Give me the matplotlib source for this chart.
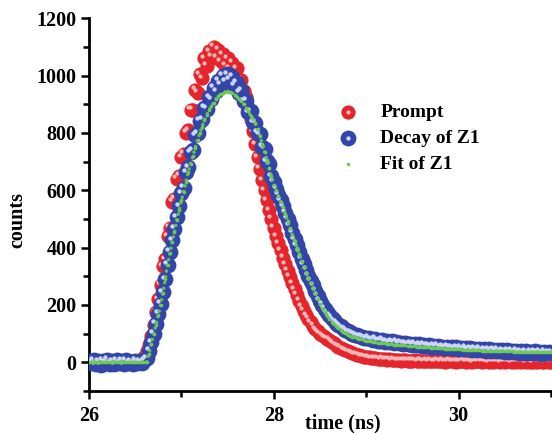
import numpy as np
import matplotlib
matplotlib.use('Agg')
import matplotlib.pyplot as plt
from matplotlib.transforms import offset_copy
from matplotlib.legend_handler import HandlerTuple

plt.rcParams['font.family'] = ['Liberation Serif', 'DejaVu Serif']
plt.rcParams['font.weight'] = 'bold'

# time channels: 26.0 ns, step 0.025 ns
t0 = 26.0
dt = 0.025

prompt = [
    2, -3, 1, 0, 4, -2, 3, 1, -1, 2, 0, 3, -2, 1, 2, -1, 0, 3, 1, 2,
    3, 2, 5, 12, 20, 38, 60, 92, 130, 175, 220, 270, 335, 360, 440, 470, 560, 570, 640, 650,
    715, 728, 800, 810, 880, 880, 950, 940, 1005, 990, 1060, 1035, 1085, 1065, 1100, 1062, 1090, 1050, 1075, 1035,
    1060, 1025, 1045, 1005, 1025, 978, 985, 945, 925, 885, 850, 805, 760, 715, 675, 635, 600, 565, 530, 500,
    470, 440, 415, 390, 365, 342, 320, 298, 275, 255, 235, 215, 195, 180, 165, 152, 140, 128, 115, 108,
    100, 94, 88, 83, 78, 72, 66, 60, 55, 50, 45, 42, 38, 35, 32, 29, 26, 24, 22, 20,
    18, 17, 15, 14, 14, 12, 11, 12, 10, 9, 10, 8, 9, 7, 8, 6, 7, 8, 5, 6,
    5, 7, 4, 6, 5, 3, 6, 4, 5, 3, 4, 6, 3, 5, 2, 4, 5, 3, 4, 2,
    4, 3, 5, 2, 4, 3, 1, 4, 3, 5, 2, 3, 4, 1, 3, 2, 4, 3, 1, 3,
    2, 4, 3, 1, 3, 2, 4, 2, 3, 1, 3, 2, 1, 3, 2, 4, 2, 1, 3, 2,
    2,
]

decay = [
    5, -4, 8, -6, 3, -8, 6, -2, 9, -5, 4, -7, 7, -3, 5, -6, 8, -4, 2, -5,
    6, -3, 4, -2, 8, 15, 40, 70, 100, 135, 170, 205, 245, 290, 340, 385, 425, 465, 505, 545,
    590, 608, 662, 680, 732, 740, 792, 798, 842, 848, 888, 885, 925, 918, 958, 945, 982, 968, 1000, 980,
    1005, 985, 995, 965, 975, 940, 948, 910, 912, 872, 875, 838, 835, 800, 795, 752, 745, 702, 690, 648,
    630, 605, 585, 565, 545, 522, 500, 478, 452, 430, 408, 385, 362, 342, 322, 302, 285, 268, 250, 232,
    215, 200, 186, 174, 164, 155, 146, 138, 131, 125, 119, 113, 108, 104, 100, 97, 94, 91, 89, 86,
    84, 86, 80, 79, 82, 76, 75, 78, 72, 74, 70, 73, 68, 71, 66, 69, 64, 67, 63, 65,
    62, 64, 60, 63, 58, 61, 57, 60, 55, 58, 54, 57, 52, 55, 51, 54, 50, 53, 49, 52,
    48, 51, 46, 50, 45, 49, 44, 48, 43, 47, 42, 46, 41, 45, 40, 44, 39, 43, 38, 42,
    37, 42, 36, 41, 35, 40, 34, 39, 33, 38, 32, 37, 31, 38, 33, 36, 30, 37, 32, 35,
    34,
]

fit = [
    0, 0, 0, 0, 0, 0, 0, 0, 0, 0, 0, 0, 0, 0, 0, 0, 0, 0, 0, 0,
    0, 0, 0, 0, 0, 0, 30, 65, 100, 130, 165, 200, 240, 290, 340, 380, 420, 455, 495, 530,
    565, 595, 630, 665, 693, 720, 748, 775, 800, 822, 845, 863, 880, 893, 905, 918, 928, 935, 940, 943,
    943, 942, 938, 933, 926, 918, 910, 900, 888, 875, 860, 848, 833, 815, 790, 762, 735, 706, 677, 648,
    620, 600, 580, 560, 540, 517, 493, 468, 445, 422, 400, 378, 355, 333, 313, 293, 275, 258, 240, 222,
    205, 190, 176, 163, 152, 142, 133, 125, 118, 112, 106, 101, 97, 93, 90, 87, 84, 82, 80, 78,
    76, 75, 73, 72, 70, 69, 68, 67, 66, 65, 64, 63, 62, 61, 61, 60, 59, 59, 58, 57,
    57, 56, 55, 55, 54, 53, 53, 52, 51, 51, 50, 50, 49, 49, 48, 48, 47, 47, 46, 46,
    45, 45, 44, 44, 44, 43, 43, 42, 42, 42, 41, 41, 41, 40, 40, 40, 39, 39, 39, 39,
    38, 38, 38, 38, 37, 37, 37, 37, 37, 36, 36, 36, 36, 36, 36, 35, 35, 35, 35, 35,
    35,
]

t_prompt = t0 + dt * np.arange(len(prompt))
t_decay = t0 + dt * np.arange(len(decay))
t_fit = t0 + dt * np.arange(len(fit))

fig = plt.figure(figsize=(5.52, 4.33), dpi=100)
ax = fig.add_axes([0.1612, 0.097, 0.837, 0.861])

spot = offset_copy(ax.transData, fig=fig, x=-2.5, y=2.5, units='dots')

# prompt spheres
r0 = ax.scatter(t_prompt, prompt, s=105, color='#e4252b', lw=0, zorder=2)
r2 = ax.scatter(t_prompt, prompt, s=9, color='#ffb8b8', lw=0, zorder=2, transform=spot)

# decay spheres
b0 = ax.scatter(t_decay, decay, s=130, color='#3346a8', lw=0, zorder=3)
b2 = ax.scatter(t_decay, decay, s=10, color='#cdd5ff', lw=0, zorder=3, transform=spot)

# fit dots
ax.plot(t_fit, fit, color='#62c24a', lw=2.6, ls=(0, (0.01, 1.6)),
        dash_capstyle='round', zorder=4)
g0 = ax.scatter(t_fit, fit, s=7, color='#6ccc50', lw=0, zorder=4)

ax.set_xlim(26, 31)
ax.set_ylim(-100, 1200)
ax.set_xticks([26, 28, 30])
ax.set_xticks([27, 29, 31], minor=True)
ax.set_yticks([0, 200, 400, 600, 800, 1000, 1200])
ax.set_yticks([-100, 100, 300, 500, 700, 900, 1100], minor=True)

for s in ['top', 'right']:
    ax.spines[s].set_visible(False)
for s in ['left', 'bottom']:
    ax.spines[s].set_linewidth(2)
ax.tick_params(which='major', direction='out', length=6, width=1.8, labelsize=14.5, pad=3)
ax.tick_params(which='minor', direction='out', length=4, width=1.8)
ax.tick_params(axis='x', which='major', pad=5)

ax.set_xlabel('time (ns)', fontsize=14.5, fontweight='bold')
ax.set_ylabel('counts', fontsize=14.5, fontweight='bold')
ax.xaxis.set_label_coords(0.55, -0.06)
ax.yaxis.set_label_coords(-0.133, 0.46)

ax.legend([(r0, r2), (b0, b2), g0], ['Prompt', 'Decay of Z1', 'Fit of Z1'],
          handler_map={tuple: HandlerTuple(ndivide=1, pad=0)},
          loc='upper left', bbox_to_anchor=(0.492, 0.819), frameon=False,
          prop={'size': 14, 'weight': 'bold'}, handletextpad=0.9,
          labelspacing=0.43, handlelength=1.5, scatterpoints=1)

fig.savefig('out.png', dpi=100)
